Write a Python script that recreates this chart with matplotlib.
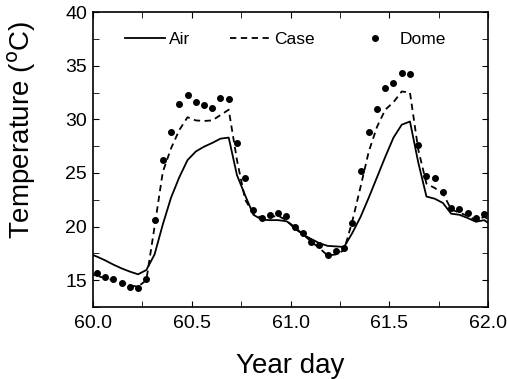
import numpy as np
import matplotlib
matplotlib.use("Agg")
import matplotlib.pyplot as plt
from matplotlib.ticker import MultipleLocator

plt.rcParams['font.family'] = ['Liberation Sans', 'DejaVu Sans']

# hourly readings, one hour before 60.0 to one hour past 62.0 (half-hour offset)
hours = np.arange(-1, 49)
day = 60 + (hours + 0.5) / 24

air = [17.5, 17.2, 16.85, 16.45, 16.1, 15.8, 15.55, 15.95, 17.4, 20.2, 22.7,
       24.6, 26.2, 27.0, 27.45, 27.8, 28.2, 28.3, 24.8, 22.9, 21.1,
       20.65, 20.6, 20.6, 20.5, 20.0, 19.25, 18.85, 18.45, 18.2, 18.15,
       18.1, 19.4, 20.9, 22.7, 24.6, 26.5, 28.3, 29.5, 29.8, 26.0,
       22.8, 22.6, 22.2, 21.2, 21.1, 20.8, 20.45, 20.6, 20.1]

case = [15.6, 15.4, 15.2, 15.0, 14.8, 14.5, 14.4, 15.0, 20.0, 25.1, 27.3,
        29.0, 30.2, 29.9, 29.85, 29.9, 30.4, 30.9, 26.2, 22.5, 21.2,
        20.8, 20.9, 21.0, 20.6, 19.8, 19.3, 18.6, 18.0, 17.3, 17.4,
        17.8, 20.5, 23.7, 27.0, 29.3, 30.9, 31.6, 32.6, 32.5, 27.2,
        24.0, 23.6, 23.1, 21.6, 21.3, 21.0, 20.6, 20.9, 20.5]

dome = [np.nan, 15.65, 15.27, 15.09, 14.77, 14.4, 14.28, 15.14, 20.6, 26.2, 28.8,
        31.4, 32.26, 31.6, 31.3, 31.05, 32.0, 31.9, 27.76, 24.5, 21.55,
        20.83, 21.08, 21.3, 21.0, 20.0, 19.4, 18.55, 18.25, 17.35, 17.75,
        17.97, 20.3, 25.2, 28.8, 31.0, 32.9, 33.35, 34.35, 34.2, 27.6,
        24.75, 24.55, 23.25, 21.76, 21.6, 21.3, 20.77, 21.15, np.nan]

fig = plt.figure(figsize=(5.07, 3.79), dpi=100)
ax = fig.add_axes([0.183, 0.19, 0.78, 0.778])

ax.plot(day, air, color='black', lw=1.3, label='Air')
ax.plot(day, case, color='black', lw=1.3, linestyle=(0, (3.5, 2.5)), label='Case')
ax.plot(day, dome, 'o', color='black', markersize=4, label='Dome')

ax.set_xlim(60, 62)
ax.set_ylim(12.5, 40)
ax.xaxis.set_major_locator(MultipleLocator(0.5))
ax.xaxis.set_minor_locator(MultipleLocator(0.25))
ax.yaxis.set_major_locator(MultipleLocator(5))
ax.yaxis.set_minor_locator(MultipleLocator(2.5))
ax.xaxis.set_major_formatter(plt.FormatStrFormatter('%.1f'))
ax.tick_params(which='both', direction='in', top=True, right=True, labelsize=14)
ax.tick_params(which='both', length=4)
ax.tick_params(axis='x', pad=6)
ax.tick_params(axis='y', pad=4)
for s in ax.spines.values():
    s.set_linewidth(1.2)

ax.set_xlabel('Year day', fontsize=20, labelpad=15)
ax.set_ylabel('Temperature ($^{\\rm o}$C)', fontsize=20)
ax.yaxis.set_label_coords(-0.138, 0.6)

ax.legend(loc='center left', ncol=3, frameon=False, fontsize=12.5,
          handlelength=2.3, handletextpad=0.25, columnspacing=2.3,
          borderpad=0, borderaxespad=0, bbox_to_anchor=(0.081, 0.908))

fig.savefig('out.png', dpi=100)
